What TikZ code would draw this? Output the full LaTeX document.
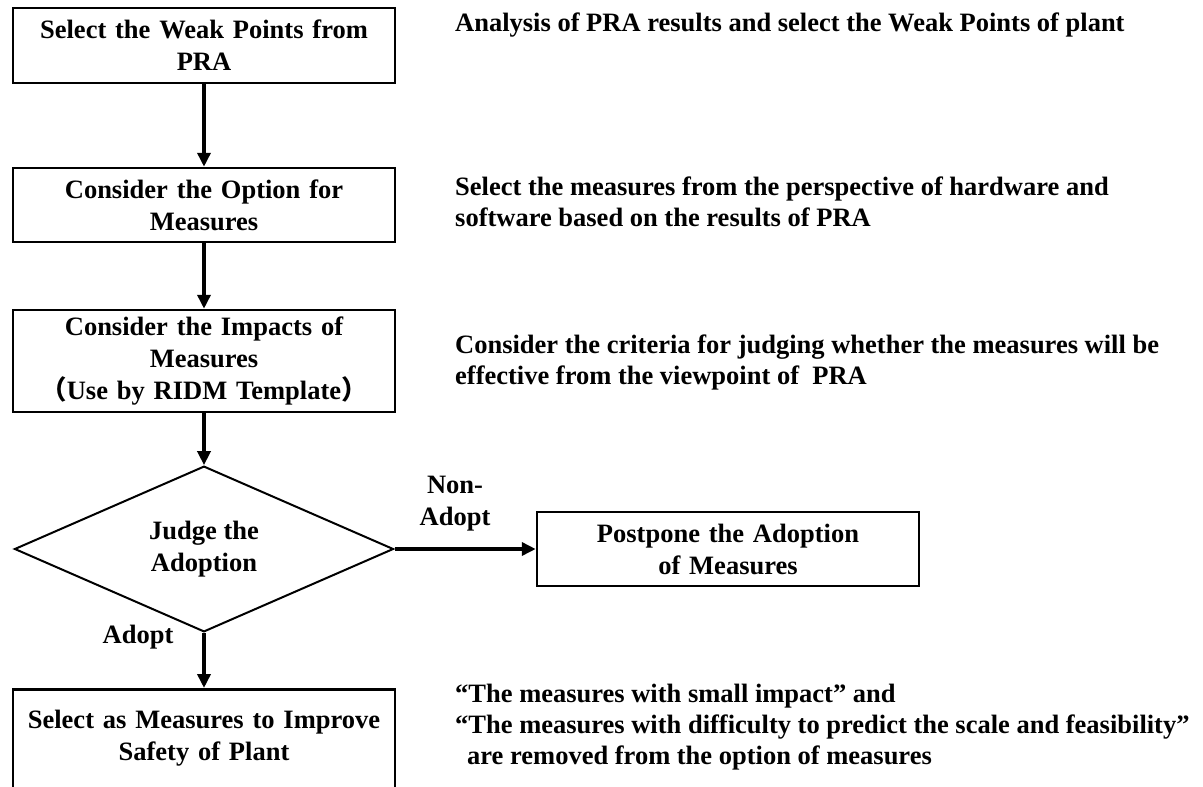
\documentclass[tikz,border=0pt]{standalone}
\usepackage{fontspec}
\setmainfont{Liberation Serif}
\newfontfamily\cjkfont{Noto Sans CJK JP}
\usetikzlibrary{shapes.geometric,arrows.meta}

\begin{document}
\begin{tikzpicture}[
x=1pt, y=-1pt,
font=\fontsize{26.5}{32}\selectfont\bfseries,
stepbox/.style={draw, line width=2.5pt, minimum width=382pt, text width=372pt, align=center, inner sep=0pt},
judgebox/.style={draw, diamond, line width=2pt, minimum width=379pt, minimum height=123pt, inner sep=0pt, align=center},
note/.style={anchor=west, align=left, inner sep=0pt, font=\fontsize{26.5}{31}\selectfont\bfseries},
flow/.style={line width=4pt, -{Triangle[length=14pt,width=13pt]}}]
\useasboundingbox (0,0) rectangle (1203,787);
\fill[white] (0,0) rectangle (1203,787);
\clip (0,0) rectangle (1203,787);

\node (weak) [stepbox, minimum height=75pt] at (204,45.5) {Select the Weak Points from\\PRA};
\node (option) [stepbox, minimum height=74pt] at (204,205) {Consider the Option for\\Measures};
\node (impact) [stepbox, minimum height=102pt] at (204,361) {Consider the Impacts of\\Measures\\{\cjkfont （}Use by RIDM Template{\cjkfont ）}};
\node (judge) [judgebox] at (204,549) {Judge the\\Adoption};
\node (postpone) [stepbox, minimum height=74pt] at (728,549) {Postpone the Adoption\\of Measures};
\node (safety) [stepbox, anchor=north, inner ysep=20pt, text height=19pt, text depth=90pt] at (204,688) {Select as Measures to Improve\\Safety of Plant};

\node (adopt) at (138,637) {Adopt};
\node (nonadopt) [align=center] at (455,504) {Non-\\Adopt};

\node (note1) [note] at (455,25) {Analysis of PRA results and select the Weak Points of plant};
\node (note2) [note] at (455,202) {Select the measures from the perspective of hardware and\\software based on the results of PRA};
\node (note3) [note] at (455,362) {Consider the criteria for judging whether the measures will be\\effective from the viewpoint of~ PRA};
\node (note4) [note] at (455,727) {“The measures with small impact” and\\“The measures with difficulty to predict the scale and feasibility”\\\hspace*{12pt}are removed from the option of measures};

\draw[flow] (weak) -- (option);
\draw[flow] (option) -- (impact);
\draw[flow] (impact) -- (judge.north);
\draw[flow] (judge.east) -- (postpone.west);
\draw[flow] (judge.south) -- (safety.north);
\end{tikzpicture}
\end{document}
